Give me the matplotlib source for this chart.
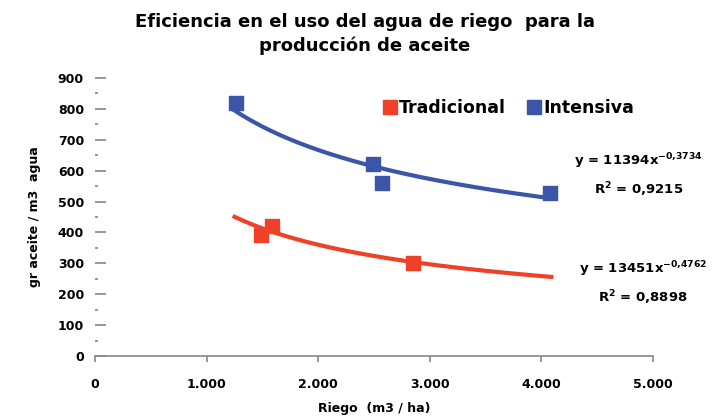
import numpy as np
import matplotlib
matplotlib.use("Agg")
import matplotlib.pyplot as plt
from matplotlib.lines import Line2D

# Data
trad_x = [1490, 1590, 2850]
trad_y = [392, 420, 302]
int_x = [1260, 2490, 2570, 4080]
int_y = [820, 620, 561, 527]

# Power trendline coefficients (from chart equations)
int_a, int_b = 11394, -0.3734
trad_a, trad_b = 13451, -0.4762
trend_range = [1250, 4090]

xticks = [0, 1000, 2000, 3000, 4000, 5000]
xtick_labels = ["0", "1.000", "2.000", "3.000", "4.000", "5.000"]
yticks = list(range(0, 1000, 100))

RED = "#EE4128"
BLUE = "#3B55A8"

plt.rcParams['font.family'] = ['DejaVu Sans']
plt.rcParams['mathtext.default'] = 'regular'
fig = plt.figure(figsize=(7.15, 4.19), dpi=100)
ax = fig.add_axes([0.133, 0.150, 0.780, 0.664])

xs = np.linspace(trend_range[0], trend_range[1], 200)
ax.plot(xs, int_a * xs ** int_b, color=BLUE, lw=3, zorder=2)
ax.plot(xs, trad_a * xs ** trad_b, color=RED, lw=3, zorder=2)
ax.scatter(trad_x, trad_y, marker="s", s=90, color=RED, zorder=3)
ax.scatter(int_x, int_y, marker="s", s=90, color=BLUE, zorder=3)

ax.set_xlim(0, 5000)
ax.set_ylim(0, 900)
ax.set_xticks(xticks)
ax.set_xticklabels(xtick_labels, fontweight="bold", fontsize=9)
ax.set_yticks(yticks)
ax.set_yticklabels([str(v) for v in yticks], fontweight="bold", fontsize=9)
ax.set_yticks([v + 50 for v in yticks[:-1]], minor=True)

for s in ["top", "right", "left"]:
    ax.spines[s].set_visible(False)
ax.spines["bottom"].set_color("#888888")
ax.spines["bottom"].set_linewidth(1.2)
ax.tick_params(axis="y", which="major", direction="in", length=8, width=1.2, color="#888888", pad=8)
ax.tick_params(axis="y", which="minor", direction="in", length=2, width=1.2, color="#888888")
ax.tick_params(axis="x", which="major", direction="out", length=4, width=1.2, color="#888888", pad=12)

ax.set_xlabel("Riego  (m3 / ha)", fontweight="bold", fontsize=9, labelpad=8)
ax.set_ylabel("gr aceite / m3  agua", fontweight="bold", fontsize=9, labelpad=12)

fig.suptitle("Eficiencia en el uso del agua de riego  para la\nproducción de aceite",
             fontweight="bold", fontsize=13, x=0.51, y=0.97, linespacing=1.4)

handles = [Line2D([], [], ls="none", marker="s", markersize=9.5, color=RED),
           Line2D([], [], ls="none", marker="s", markersize=9.5, color=BLUE)]
ax.legend(handles, ["Tradicional", "Intensiva"], loc="center left",
          bbox_to_anchor=(0.49, 0.892), ncol=2, frameon=False,
          handlelength=0.7, handletextpad=0.15, columnspacing=1.3,
          prop={"weight": "bold", "size": 12.5})

ax.text(4875, 586, "y = 11394x$^{-0{,}3734}$\nR$^{2}$ = 0,9215", ha="center", va="center",
        fontweight="bold", fontsize=9.5, linespacing=1.7)
ax.text(4910, 236, "y = 13451x$^{-0{,}4762}$\nR$^{2}$ = 0,8898", ha="center", va="center",
        fontweight="bold", fontsize=9.5, linespacing=1.7)

fig.savefig("out.png", dpi=100)
